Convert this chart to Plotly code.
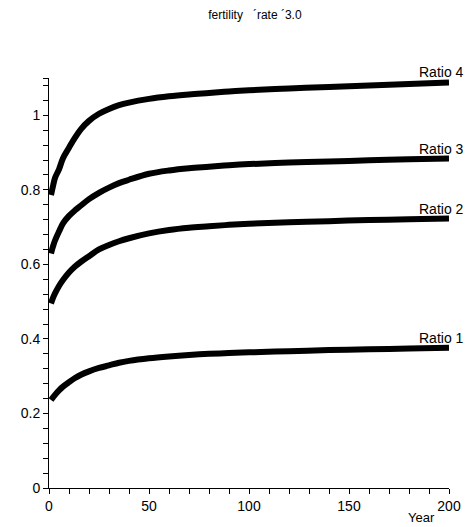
import plotly.graph_objects as go

years = [1, 2, 3, 5, 7, 10, 13, 16, 20, 25, 30, 35, 40, 50, 60, 70, 80, 90, 100, 120, 140, 160, 180, 200]

ratio1 = [0.236, 0.243, 0.250, 0.262, 0.272, 0.284, 0.295, 0.304, 0.313, 0.322, 0.329, 0.336, 0.341, 0.348,
          0.353, 0.357, 0.360, 0.362, 0.364, 0.367, 0.370, 0.372, 0.374, 0.376]
ratio2 = [0.495, 0.510, 0.522, 0.542, 0.558, 0.578, 0.594, 0.607, 0.622, 0.640, 0.652, 0.662, 0.670, 0.683,
          0.692, 0.698, 0.702, 0.706, 0.709, 0.713, 0.716, 0.719, 0.721, 0.723]
ratio3 = [0.629, 0.648, 0.664, 0.688, 0.710, 0.730, 0.745, 0.758, 0.775, 0.792, 0.806, 0.818, 0.827, 0.843,
          0.852, 0.858, 0.862, 0.866, 0.869, 0.873, 0.876, 0.879, 0.882, 0.884]
ratio4 = [0.786, 0.810, 0.832, 0.855, 0.885, 0.913, 0.940, 0.963, 0.985, 1.004, 1.017, 1.027, 1.034, 1.044,
          1.051, 1.056, 1.060, 1.064, 1.067, 1.072, 1.076, 1.080, 1.084, 1.088]

series = [("Ratio 1", ratio1), ("Ratio 2", ratio2), ("Ratio 3", ratio3), ("Ratio 4", ratio4)]

title_text = "fertility\u00a0\u00a0\u00a0\u00b4rate\u00a0\u00b43.0"
x_title = "Year"

FONT = "Liberation Sans, Arial"

fig = go.Figure()
for name, vals in series:
    fig.add_trace(go.Scatter(x=years, y=vals, mode="lines", name=name,
                             line=dict(color="black", width=6, shape="spline", smoothing=1.0),
                             showlegend=False))
    fig.add_annotation(x=184, y=vals[-1], text=name, showarrow=False,
                       xanchor="left", yanchor="bottom", yshift=0,
                       font=dict(family=FONT, size=14, color="black"))

fig.add_annotation(xref="paper", yref="paper", x=0.93, y=-0.072, text=x_title,
                   showarrow=False, xanchor="center", yanchor="middle", borderpad=0,
                   font=dict(family=FONT, size=13, color="black"))

# page has an 8px body margin; size/margins compensate so the plot area lands where the reference has it
fig.update_layout(
    width=465, height=519,
    margin=dict(l=41, r=13, t=70, b=39),
    plot_bgcolor="white", paper_bgcolor="white",
    font=dict(family=FONT, size=14, color="black"),
    title=dict(text=title_text, x=0.531, xanchor="center", y=0.986, yanchor="middle",
               font=dict(size=12, color="black")),
)
fig.update_xaxes(range=[0, 200], tickvals=[0, 50, 100, 150, 200], ticks="outside", ticklen=5,
                 tickcolor="black", showline=True, linecolor="black", linewidth=1,
                 showgrid=False, zeroline=False,
                 minor=dict(dtick=10, tick0=0, ticks="outside", ticklen=5, tickcolor="black", showgrid=False))
fig.update_yaxes(range=[0, 1.1], tickvals=[0, 0.2, 0.4, 0.6, 0.8, 1.0], ticktext=["0", "0.2", "0.4", "0.6", "0.8", "1"],
                 ticks="outside", ticklen=5, tickcolor="black", showline=True, linecolor="black", linewidth=1,
                 showgrid=False, zeroline=False,
                 minor=dict(tickvals=[0.04, 0.08, 0.12, 0.16, 0.24, 0.28, 0.32, 0.36, 0.44, 0.48, 0.52, 0.56,
                                      0.64, 0.68, 0.72, 0.76, 0.84, 0.88, 0.92, 0.96, 1.04, 1.08, 1.1],
                            ticks="outside", ticklen=5, tickcolor="black", showgrid=False))

fig.write_html("out.html")
